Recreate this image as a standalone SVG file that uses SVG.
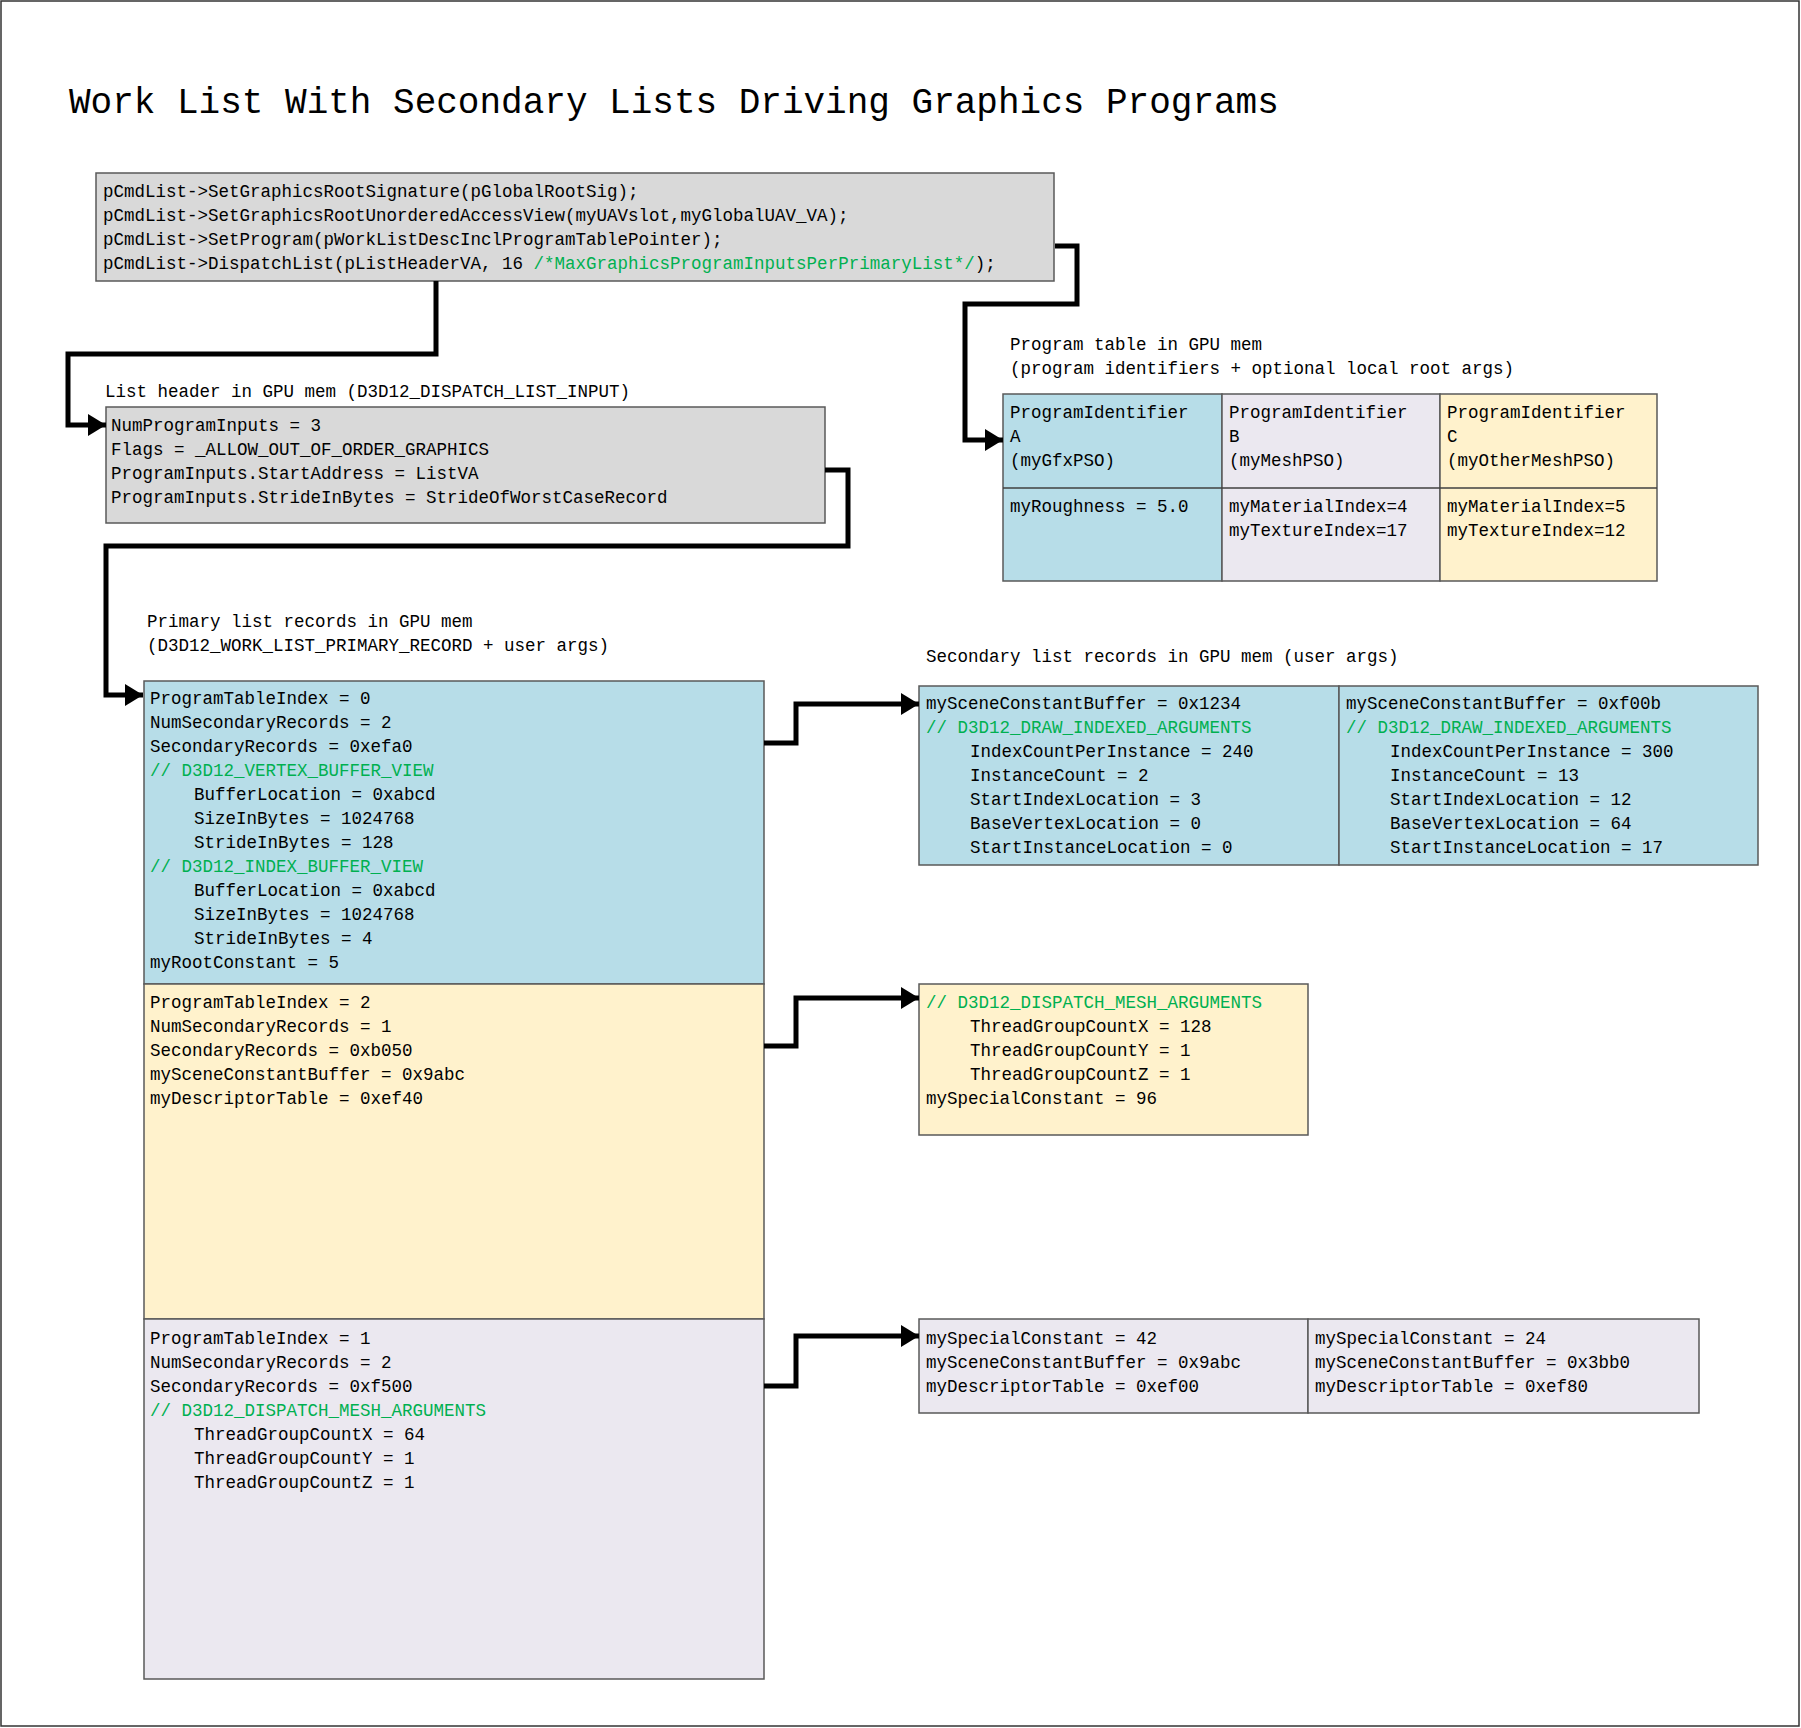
<svg xmlns="http://www.w3.org/2000/svg" width="1801" height="1728" viewBox="0 0 1801 1728">
<style>
text{font-family:"Liberation Mono","DejaVu Sans Mono",monospace;font-size:17.5px;fill:#000}
.t{font-size:36px}
.g{fill:#00b050}
.box{stroke:#595959;stroke-width:1.5}
.gray{fill:#d9d9d9}.blue{fill:#b7dde8}.yel{fill:#fff2cc}.lav{fill:#ebe8f0}
.c{fill:none;stroke:#000;stroke-width:5;marker-end:url(#ah)}
</style>
<defs><marker id="ah" markerUnits="userSpaceOnUse" markerWidth="18" markerHeight="22" refX="18" refY="11" orient="auto"><path d="M0,0L18,11L0,22Z" fill="#000"/></marker></defs>
<rect x="1" y="1" width="1798" height="1725" fill="#fff" stroke="#333" stroke-width="1.5"/>
<text class="t" x="69" y="113">Work List With Secondary Lists Driving Graphics Programs</text>

<g id="cmd">
<rect class="box gray" x="96" y="173" width="958" height="108"/>
<text x="103" y="197">pCmdList-&gt;SetGraphicsRootSignature(pGlobalRootSig);</text>
<text x="103" y="221">pCmdList-&gt;SetGraphicsRootUnorderedAccessView(myUAVslot,myGlobalUAV_VA);</text>
<text x="103" y="245">pCmdList-&gt;SetProgram(pWorkListDescInclProgramTablePointer);</text>
<text x="103" y="269">pCmdList-&gt;DispatchList(pListHeaderVA, 16 <tspan class="g">/*MaxGraphicsProgramInputsPerPrimaryList*/</tspan>);</text>
</g>

<g id="header">
<text x="105" y="397">List header in GPU mem (D3D12_DISPATCH_LIST_INPUT)</text>
<rect class="box gray" x="106" y="407" width="719" height="116"/>
<text x="111" y="431">NumProgramInputs = 3</text>
<text x="111" y="455">Flags = _ALLOW_OUT_OF_ORDER_GRAPHICS</text>
<text x="111" y="479">ProgramInputs.StartAddress = ListVA</text>
<text x="111" y="503">ProgramInputs.StrideInBytes = StrideOfWorstCaseRecord</text>
</g>

<g id="progtable">
<text x="1010" y="350">Program table in GPU mem</text>
<text x="1010" y="374">(program identifiers + optional local root args)</text>
<rect class="box blue" x="1003" y="394" width="219" height="187"/>
<rect class="box lav" x="1222" y="394" width="218" height="187"/>
<rect class="box yel" x="1440" y="394" width="217" height="187"/>
<line x1="1003" y1="488" x2="1657" y2="488" stroke="#404040" stroke-width="1.5"/>
<text x="1010" y="418">ProgramIdentifier</text><text x="1010" y="442">A</text><text x="1010" y="466">(myGfxPSO)</text>
<text x="1229" y="418">ProgramIdentifier</text><text x="1229" y="442">B</text><text x="1229" y="466">(myMeshPSO)</text>
<text x="1447" y="418">ProgramIdentifier</text><text x="1447" y="442">C</text><text x="1447" y="466">(myOtherMeshPSO)</text>
<text x="1010" y="512">myRoughness = 5.0</text>
<text x="1229" y="512">myMaterialIndex=4</text><text x="1229" y="536">myTextureIndex=17</text>
<text x="1447" y="512">myMaterialIndex=5</text><text x="1447" y="536">myTextureIndex=12</text>
</g>

<g id="primary">
<text x="147" y="627">Primary list records in GPU mem</text>
<text x="147" y="651">(D3D12_WORK_LIST_PRIMARY_RECORD + user args)</text>
<rect class="box blue" x="144" y="681" width="620" height="303"/>
<rect class="box yel" x="144" y="984" width="620" height="335"/>
<rect class="box lav" x="144" y="1319" width="620" height="360"/>
<text x="150" y="704">ProgramTableIndex = 0</text>
<text x="150" y="728">NumSecondaryRecords = 2</text>
<text x="150" y="752">SecondaryRecords = 0xefa0</text>
<text class="g" x="150" y="776">// D3D12_VERTEX_BUFFER_VIEW</text>
<text x="194" y="800">BufferLocation = 0xabcd</text>
<text x="194" y="824">SizeInBytes = 1024768</text>
<text x="194" y="848">StrideInBytes = 128</text>
<text class="g" x="150" y="872">// D3D12_INDEX_BUFFER_VIEW</text>
<text x="194" y="896">BufferLocation = 0xabcd</text>
<text x="194" y="920">SizeInBytes = 1024768</text>
<text x="194" y="944">StrideInBytes = 4</text>
<text x="150" y="968">myRootConstant = 5</text>
<text x="150" y="1008">ProgramTableIndex = 2</text>
<text x="150" y="1032">NumSecondaryRecords = 1</text>
<text x="150" y="1056">SecondaryRecords = 0xb050</text>
<text x="150" y="1080">mySceneConstantBuffer = 0x9abc</text>
<text x="150" y="1104">myDescriptorTable = 0xef40</text>
<text x="150" y="1344">ProgramTableIndex = 1</text>
<text x="150" y="1368">NumSecondaryRecords = 2</text>
<text x="150" y="1392">SecondaryRecords = 0xf500</text>
<text class="g" x="150" y="1416">// D3D12_DISPATCH_MESH_ARGUMENTS</text>
<text x="194" y="1440">ThreadGroupCountX = 64</text>
<text x="194" y="1464">ThreadGroupCountY = 1</text>
<text x="194" y="1488">ThreadGroupCountZ = 1</text>
</g>

<g id="secondary">
<text x="926" y="662">Secondary list records in GPU mem (user args)</text>
<rect class="box blue" x="919" y="686" width="420" height="179"/>
<rect class="box blue" x="1339" y="686" width="419" height="179"/>
<text x="926" y="709">mySceneConstantBuffer = 0x1234</text>
<text class="g" x="926" y="733">// D3D12_DRAW_INDEXED_ARGUMENTS</text>
<text x="970" y="757">IndexCountPerInstance = 240</text>
<text x="970" y="781">InstanceCount = 2</text>
<text x="970" y="805">StartIndexLocation = 3</text>
<text x="970" y="829">BaseVertexLocation = 0</text>
<text x="970" y="853">StartInstanceLocation = 0</text>
<text x="1346" y="709">mySceneConstantBuffer = 0xf00b</text>
<text class="g" x="1346" y="733">// D3D12_DRAW_INDEXED_ARGUMENTS</text>
<text x="1390" y="757">IndexCountPerInstance = 300</text>
<text x="1390" y="781">InstanceCount = 13</text>
<text x="1390" y="805">StartIndexLocation = 12</text>
<text x="1390" y="829">BaseVertexLocation = 64</text>
<text x="1390" y="853">StartInstanceLocation = 17</text>

<rect class="box yel" x="919" y="984" width="389" height="151"/>
<text class="g" x="926" y="1008">// D3D12_DISPATCH_MESH_ARGUMENTS</text>
<text x="970" y="1032">ThreadGroupCountX = 128</text>
<text x="970" y="1056">ThreadGroupCountY = 1</text>
<text x="970" y="1080">ThreadGroupCountZ = 1</text>
<text x="926" y="1104">mySpecialConstant = 96</text>

<rect class="box lav" x="919" y="1319" width="389" height="94"/>
<rect class="box lav" x="1308" y="1319" width="391" height="94"/>
<text x="926" y="1344">mySpecialConstant = 42</text>
<text x="926" y="1368">mySceneConstantBuffer = 0x9abc</text>
<text x="926" y="1392">myDescriptorTable = 0xef00</text>
<text x="1315" y="1344">mySpecialConstant = 24</text>
<text x="1315" y="1368">mySceneConstantBuffer = 0x3bb0</text>
<text x="1315" y="1392">myDescriptorTable = 0xef80</text>
</g>

<g id="connectors">
<path class="c" d="M436,281V354H68V425H106"/>
<path class="c" d="M1055,246H1077V304H965V440H1003"/>
<path class="c" d="M825,470H848V546H106V695H143"/>
<path class="c" d="M764,743H796V704H919"/>
<path class="c" d="M764,1046H796V998H919"/>
<path class="c" d="M764,1386H796V1336H919"/>
</g>
</svg>
